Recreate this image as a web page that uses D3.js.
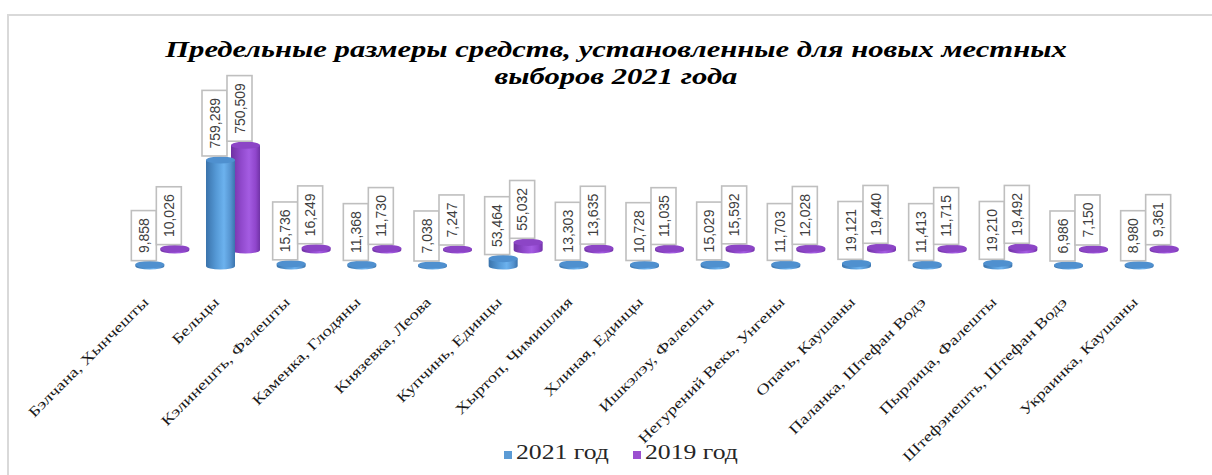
<!DOCTYPE html>
<html>
<head>
<meta charset="utf-8">
<script src="https://cdn.jsdelivr.net/npm/d3@7"></script>
<style>
  html, body { margin: 0; padding: 0; background: #fff; }
  svg { display: block; }
</style>
</head>
<body>
<svg id="chart"></svg>
<script>
// Data
const categories = [
  'Бэлчана, Хынчешты', 'Бельцы', 'Кэлинешть, Фалешты', 'Каменка, Глодяны',
  'Князевка, Леова', 'Купчинь, Единцы', 'Хыртоп, Чимишлия', 'Хлиная, Единцы',
  'Ишкэлэу, Фалешты', 'Негурений Векь, Унгены', 'Опачь, Каушаны',
  'Паланка, Штефан Водэ', 'Пырлица, Фалешты', 'Штефэнешть, Штефан Водэ', 'Украинка, Каушаны'
];
const series = ['2021 год', '2019 год'];
const values2021 = [9858, 759289, 15736, 11368, 7038, 53464, 13303, 10728, 15029, 11703, 19121, 11413, 19210, 6986, 8980];
const values2019 = [10026, 750509, 16249, 11730, 7247, 55032, 13635, 11035, 15592, 12028, 19440, 11715, 19492, 7150, 9361];
const titleLines = ['Предельные размеры средств, установленные для новых местных', 'выборов 2021 года'];

const W = 1212, H = 475;
const serif = '"Liberation Serif", "Times New Roman", serif';
const svg = d3.select('#chart').attr('width', W).attr('height', H);

// frame of the chart area
svg.append('rect')
    .attr('x', 8).attr('y', 15).attr('width', W).attr('height', H)
    .attr('fill', '#fff').attr('stroke', '#d9d9d9').attr('stroke-width', 2);

// Scales
const x = d3.scaleBand().domain(categories).range([127, 1187]);
const xSub = d3.scaleBand().domain(series)
    .range([x.bandwidth() / 2 - 25, x.bandwidth() / 2 + 25]);
const y = d3.scaleLinear().domain([0, 800000]).range([0, 111.7]);
const baseY = d3.scaleOrdinal().domain(series).range([266, 250]); // 3D depth rows
const color = d3.scaleOrdinal().domain(series).range(['#5b9bd5', '#9b4fd0']);

// Gradients for the cylinders
const defs = svg.append('defs');
const gradStops = {
  '2021 год': [['0%', '#3a73ab'], ['35%', '#5599d6'], ['62%', '#6cb2ee'], ['85%', '#5593cf'], ['100%', '#3b74ad']],
  '2019 год': [['0%', '#6f31a2'], ['35%', '#9049cc'], ['62%', '#a45ce2'], ['85%', '#9046cc'], ['100%', '#7133a6']]
};
const topFill = { '2021 год': '#4f90cf', '2019 год': '#8c45c6' };
series.forEach((s, i) => {
  const g = defs.append('linearGradient').attr('id', 'grad' + i)
      .attr('x1', '0%').attr('x2', '100%').attr('y1', '0%').attr('y2', '0%');
  gradStops[s].forEach(st => g.append('stop').attr('offset', st[0]).attr('stop-color', st[1]));
});

const rows = series.map((s, si) => ({
  name: s,
  idx: si,
  data: categories.map((c, i) => ({ cat: c, value: si === 0 ? values2021[i] : values2019[i] }))
}));

const rx = 14.5, ry = 3.6;
const cx = (s, d) => x(d.cat) + xSub(s) + xSub.bandwidth() / 2;

// draw back row (2019) first, then front row (2021)
const barLayer = svg.append('g');
rows.slice().reverse().forEach(r => {
  const g = barLayer.append('g');
  const bars = g.selectAll('g.bar').data(r.data).join('g').attr('class', 'bar');
  bars.append('path')
      .attr('d', d => {
        const c = cx(r.name, d), b = baseY(r.name), t = b - y(d.value);
        return `M${c - rx},${t} L${c - rx},${b} A${rx},${ry} 0 0 0 ${c + rx},${b} L${c + rx},${t} Z`;
      })
      .attr('fill', `url(#grad${r.idx})`);
  bars.append('ellipse')
      .attr('cx', d => cx(r.name, d))
      .attr('cy', d => baseY(r.name) - y(d.value))
      .attr('rx', rx).attr('ry', ry)
      .attr('fill', topFill[r.name]);
});

// value labels in boxes
const labelLayer = svg.append('g');
rows.forEach(r => {
  r.data.forEach(d => {
    const c = cx(r.name, d) - 6;
    const bottom = baseY(r.name) - y(d.value) - 4;
    const g = labelLayer.append('g');
    const rect = g.append('rect');
    const txt = g.append('text')
        .attr('transform', `translate(${c + 5},${bottom - 7.5}) rotate(-90)`)
        .attr('font-family', '"Liberation Sans", Arial, sans-serif')
        .attr('font-size', 14)
        .attr('fill', '#404040')
        .text(d3.format(',')(d.value));
    const len = txt.node().getComputedTextLength();
    rect.attr('x', c - 12.5).attr('y', bottom - len - 15)
        .attr('width', 25).attr('height', len + 15)
        .attr('fill', '#fff').attr('stroke', '#bfbfbf').attr('stroke-width', 1.6);
  });
});

// the original font is wider than Liberation Serif: stretch text along its baseline
function stretchTo(sel, target) {
  const w = sel.node().getComputedTextLength();
  return target / w;
}

// category labels
const catLabels = svg.append('g').selectAll('text').data(categories).join('text')
    .attr('text-anchor', 'end')
    .attr('font-family', serif)
    .attr('font-size', 14.5)
    .attr('fill', '#1a1a1a')
    .text(d => d);
const catK = stretchTo(catLabels.filter((d, i) => i === 0), 163);
catLabels.attr('transform', d => `translate(${x(d) + x.bandwidth() / 2 - 13},303) rotate(-45) scale(${catK},1)`);

// title
const title = svg.append('g').selectAll('text').data(titleLines).join('text')
    .attr('text-anchor', 'middle')
    .attr('font-family', serif)
    .attr('font-style', 'italic').attr('font-weight', 'bold')
    .attr('font-size', 22.5)
    .attr('fill', '#000')
    .text(d => d);
const titleK = stretchTo(title.filter((d, i) => i === 0), 902);
title.attr('transform', (d, i) => `translate(616,${57 + i * 27}) scale(${titleK},1)`);

// legend
const legend = svg.append('g');
let lx = 504;
series.forEach(s => {
  legend.append('rect').attr('x', lx).attr('y', 451).attr('width', 8).attr('height', 8).attr('fill', color(s));
  const t = legend.append('text')
      .attr('font-family', serif).attr('font-size', 20)
      .attr('fill', '#262626').text(s);
  const k = stretchTo(t, 93);
  t.attr('transform', `translate(${lx + 12},459) scale(${k},1)`);
  lx += 12 + 93 + 24;
});
</script>
</body>
</html>
